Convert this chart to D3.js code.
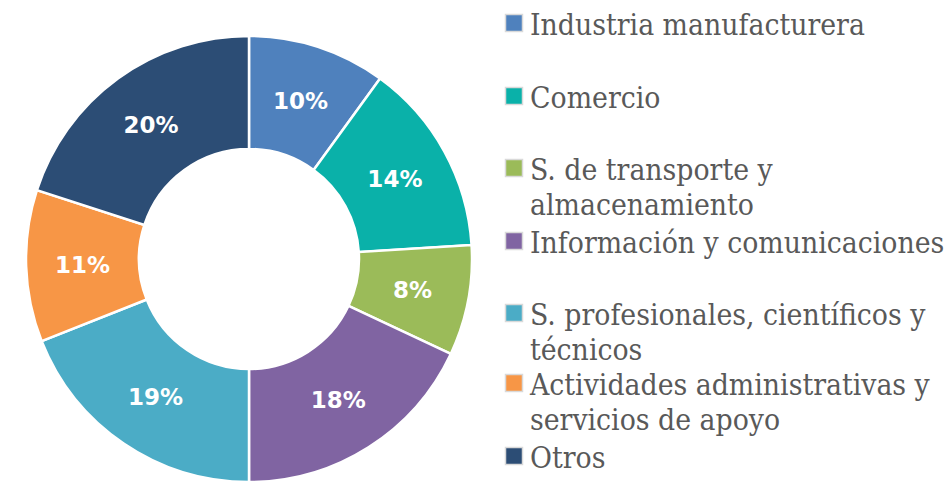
<!DOCTYPE html>
<html><head><meta charset="utf-8">
<script src="https://cdn.jsdelivr.net/npm/d3@7"></script>
<style>html,body{margin:0;padding:0;background:#fff;}</style>
</head><body>
<svg id="c" width="952" height="481"></svg>
<script>
const categories = ["Industria manufacturera","Comercio","S. de transporte y almacenamiento","Información y comunicaciones","S. profesionales, científicos y técnicos","Actividades administrativas y servicios de apoyo","Otros"];
const values = [10,14,8,18,19,11,20];
const colors = ["#4F81BD","#0AB1A9","#9BBB59","#8064A2","#4BACC6","#F79646","#2C4D75"];
const legendLines = [["Industria manufacturera"],["Comercio"],["S. de transporte y","almacenamiento"],["Información y comunicaciones"],["S. profesionales, científicos y","técnicos"],["Actividades administrativas y","servicios de apoyo"],["Otros"]];
const legendBaselines = [35,108,180,253,325,395,468];

const svg = d3.select("#c");
const cx = 249, cy = 259, R = 223, r = 110;
const pie = d3.pie().sort(null).value(d=>d);
const arc = d3.arc().innerRadius(r).outerRadius(R);
const g = svg.append("g").attr("transform",`translate(${cx},${cy})`);
const arcs = pie(values);
g.selectAll("path").data(arcs).join("path")
  .attr("d",arc).attr("fill",(d,i)=>colors[i])
  .attr("stroke","#fff").attr("stroke-width",2.5);
g.selectAll("text").data(arcs).join("text")
  .attr("transform",d=>`translate(${arc.centroid(d)})`)
  .attr("text-anchor","middle").attr("dy","0.36em")
  .attr("fill","#fff").attr("font-family","'DejaVu Sans', sans-serif")
  .attr("font-weight",700).attr("font-size",23)
  .text(d=>d.data+"%");

const lg = svg.append("g");
const fs = 28;
legendLines.forEach((lines,i)=>{
  const y0 = legendBaselines[i];
  lg.append("rect").attr("x",505.5).attr("y",y0-20.5).attr("width",17).attr("height",17)
    .attr("fill",colors[i]).attr("stroke","#d9d9d9").attr("stroke-width",1.5);
  const t = lg.append("text").attr("x",530).attr("y",y0)
    .attr("font-family","'DejaVu Serif Condensed', 'DejaVu Serif', serif")
    .attr("font-stretch","condensed")
    .attr("font-size",fs).attr("fill","#595959");
  lines.forEach((ln,j)=>{
    t.append("tspan").attr("x",530).attr("y",y0+j*35).text(ln);
  });
});
// fit font so first legend label spans ~335px
const w = lg.select("text").node().getComputedTextLength();
lg.selectAll("text").attr("font-size",Math.min(30, fs*335/w));
</script>
</body></html>
